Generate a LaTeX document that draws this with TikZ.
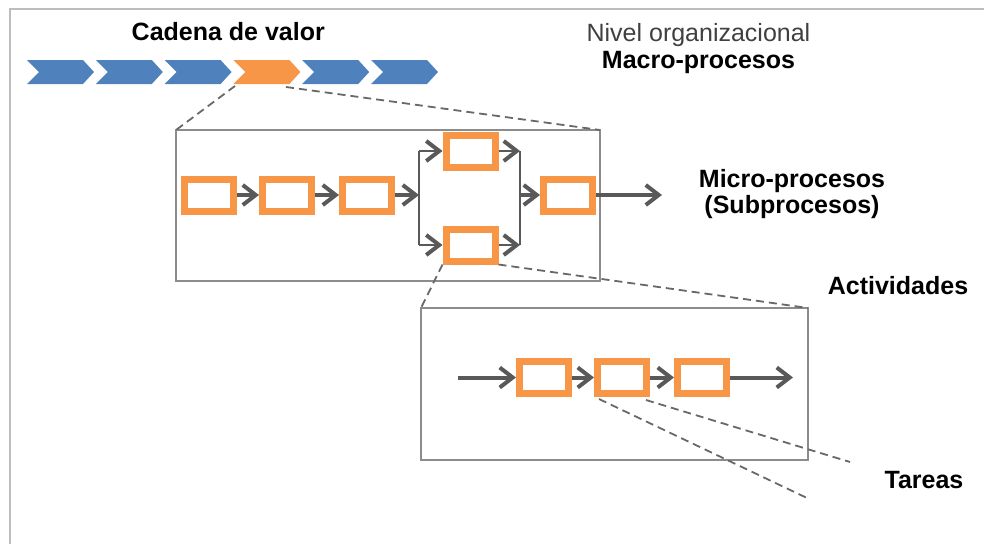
\documentclass[tikz,border=0pt]{standalone}
\usepackage{fontspec}
\setmainfont{Liberation Sans}
\usetikzlibrary{arrows.meta}
\definecolor{chainblue}{HTML}{4F81BD}
\definecolor{chainorange}{HTML}{F79646}
\definecolor{flowgray}{HTML}{595959}
\definecolor{panelgray}{HTML}{8C8C8C}
\definecolor{dashgray}{HTML}{686868}
\definecolor{framegray}{HTML}{BDBDBD}
\definecolor{textgray}{HTML}{404040}

\begin{document}
\begin{tikzpicture}[x=1pt,y=-1pt,
  stepbox/.style={draw=chainorange, line width=7pt, fill=white,
    minimum width=49pt, minimum height=32pt, inner sep=0pt},
  panel/.style={draw=panelgray, line width=1.5pt, inner sep=0pt, outer sep=0pt},
  flow/.style={draw=flowgray, line width=4pt,
    -{Straight Barb[length=13pt,width=20pt,line width=4pt]}},
  forkflow/.style={draw=flowgray, line width=2.5pt,
    -{Straight Barb[length=13pt,width=20pt,line width=4pt]}},
  forkline/.style={draw=flowgray, line width=2pt},
  zoomline/.style={draw=dashgray, line width=1.8pt, dash pattern=on 8pt off 5pt},
  lbl/.style={font=\bfseries\fontsize{25}{26.5}\selectfont, anchor=base, inner sep=0pt}
]
\useasboundingbox (0,0) rectangle (984,544);

% outer frame (top and left edges)
\draw[framegray, line width=2pt] (10,544) -- (10,9) -- (984,9);

% value chain chevrons
\foreach \i/\c in {0/chainblue,1/chainblue,2/chainblue,3/chainorange,4/chainblue,5/chainblue}{
  \pgfmathsetmacro{\xo}{27+\i*68.8}
  \fill[\c] (\xo,60) -- (\xo+56,60) -- (\xo+67,72) -- (\xo+56,84)
    -- (\xo,84) -- (\xo+12,72) -- cycle;
}
\coordinate (chainSW) at (235,86);
\coordinate (chainSE) at (286,87);

% titles
\node[lbl] (cadena) at (228.3,40) {Cadena de valor};
\node[lbl, font=\fontsize{25}{26.5}\selectfont, text=textgray] (nivel) at (698.5,41.5) {Nivel organizacional};
\node[lbl] (macro) at (698.5,68.3) {Macro-procesos};
\node[lbl] (micro) at (792,187.3) {Micro-procesos};
\node[lbl] (subp) at (792,213.3) {(Subprocesos)};
\node[lbl] (activ) at (898,294.3) {Actividades};
\node[lbl] (tareas) at (924,488.3) {Tareas};

% panels
\node[panel, minimum width=424pt, minimum height=151pt] (procpanel) at (388,205.5) {};
\node[panel, minimum width=387pt, minimum height=152pt] (actpanel) at (614.5,384) {};

% zoom guide lines
\coordinate (tareaA) at (807,498);
\coordinate (tareaB) at (850,462);
\draw[zoomline] (chainSW) -- (procpanel.north west);
\draw[zoomline] (chainSE) -- (procpanel.north east);

% subprocess boxes
\node[stepbox] (A) at (209,195) {};
\node[stepbox] (B) at (287,195) {};
\node[stepbox] (C) at (367,195) {};
\node[stepbox] (D) at (470.5,151) {};
\node[stepbox] (E) at (470.5,245) {};
\node[stepbox] (F) at (568,195) {};

\draw[zoomline] (E.south west) -- (actpanel.north west);
\draw[zoomline] (E.south east) -- (actpanel.north east);

% split / join points
\coordinate (split) at (419,195);
\coordinate (splitT) at (419,151);
\coordinate (splitB) at (419,245);
\coordinate (join) at (520,195);
\coordinate (joinT) at (520,151);
\coordinate (joinB) at (520,245);
\coordinate (procout) at (662,195);

\draw[flow] (A) -- (B);
\draw[flow] (B) -- (C);
\draw[flow] (C) -- (split);
\draw[forkline] (splitT) -- (splitB);
\draw[forkflow] (splitT) -- (D);
\draw[forkflow] (splitB) -- (E);
\draw[forkflow] (D) -- (joinT);
\draw[forkflow] (E) -- (joinB);
\draw[forkline] (joinT) -- (joinB);
\draw[flow] (join) -- (F);
\draw[flow] (F) -- (procout);

% activity row
\coordinate (actin) at (458,377.5);
\coordinate (actout) at (793,377.5);
\node[stepbox] (G) at (544,377.5) {};
\node[stepbox] (H) at (622,377.5) {};
\node[stepbox] (I) at (702,377.5) {};

\draw[zoomline] ([xshift=5pt,yshift=-2pt]H.south west) -- (tareaA);
\draw[zoomline] ([xshift=-4pt,yshift=-3pt]H.south east) -- (tareaB);

\draw[flow] (actin) -- (G);
\draw[flow] (G) -- (H);
\draw[flow] (H) -- (I);
\draw[flow] (I) -- (actout);
\end{tikzpicture}
\end{document}
